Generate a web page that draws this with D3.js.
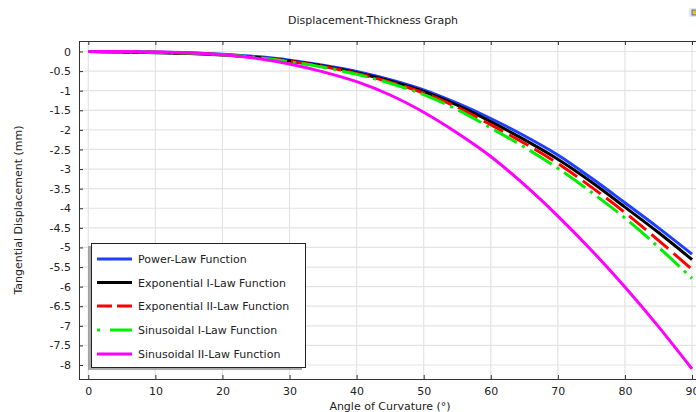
<!DOCTYPE html>
<html>
<head>
<meta charset="utf-8">
<script src="https://cdn.jsdelivr.net/npm/d3@7"></script>
<style>
  body { margin: 0; background: #fff; }
  text { font-family: 'DejaVu Sans', sans-serif; fill: #222; }
</style>
</head>
<body>
<div id="chart"></div>
<script>
// angle of curvature (deg)
const angles = [0, 5, 10, 15, 20, 25, 30, 35, 40, 45, 50, 55, 60, 65, 70, 75, 80, 85, 90];
// tangential displacement (mm)
const powerLaw = [0, 0, -0.01, -0.03, -0.07, -0.13, -0.22, -0.35, -0.51, -0.72, -0.98, -1.32, -1.71, -2.15, -2.64, -3.23, -3.86, -4.50, -5.17];
const expI = [0, -0.02, -0.03, -0.05, -0.09, -0.15, -0.24, -0.37, -0.54, -0.75, -1.02, -1.37, -1.79, -2.25, -2.75, -3.33, -3.97, -4.62, -5.31];
const expII = [0, -0.01, -0.02, -0.04, -0.08, -0.15, -0.25, -0.38, -0.56, -0.78, -1.06, -1.42, -1.87, -2.34, -2.86, -3.46, -4.11, -4.82, -5.56];
const sinI = [0, -0.01, -0.02, -0.04, -0.08, -0.15, -0.26, -0.40, -0.58, -0.81, -1.10, -1.48, -1.95, -2.44, -2.98, -3.59, -4.25, -4.99, -5.79];
const sinII = [0, 0, -0.01, -0.03, -0.08, -0.17, -0.32, -0.52, -0.77, -1.11, -1.55, -2.08, -2.68, -3.40, -4.20, -5.07, -6.01, -7.02, -8.10];
const xTicks = [0, 10, 20, 30, 40, 50, 60, 70, 80, 90];
const yTicks = [0, -0.5, -1, -1.5, -2, -2.5, -3, -3.5, -4, -4.5, -5, -5.5, -6, -6.5, -7, -7.5, -8];

const series = [
  { name: 'Power-Law Function', values: powerLaw, color: '#1f3fff', dash: null },
  { name: 'Exponential I-Law Function', values: expI, color: '#000000', dash: null },
  { name: 'Exponential II-Law Function', values: expII, color: '#ff0000', dash: '22,7' },
  { name: 'Sinusoidal I-Law Function', values: sinI, color: '#00ee00', dash: '3,6,26,6' },
  { name: 'Sinusoidal II-Law Function', values: sinII, color: '#ff00ff', dash: null }
];

const width = 696, height = 412;
const frame = { left: 79, top: 41, bottom: 379, right: 696 };

const svg = d3.select('#chart').append('svg')
  .attr('width', width)
  .attr('height', height);

const x = d3.scaleLinear().domain([0, 90]).range([88.3, 692]);
const y = d3.scaleLinear().domain([0, -8]).range([51.5, 365]);

// grid
svg.append('g').selectAll('line').data(xTicks).enter().append('line')
  .attr('x1', d => x(d)).attr('x2', d => x(d))
  .attr('y1', frame.top).attr('y2', frame.bottom)
  .attr('stroke', '#e3e3e3').attr('stroke-width', 1.2);
svg.append('g').selectAll('line').data(yTicks).enter().append('line')
  .attr('x1', frame.left).attr('x2', frame.right)
  .attr('y1', d => y(d)).attr('y2', d => y(d))
  .attr('stroke', '#e3e3e3').attr('stroke-width', 1.2);

// axes (ticks pointing inward)
const bottomAxis = svg.append('g')
  .attr('transform', `translate(0, ${frame.bottom})`)
  .call(d3.axisBottom(x).tickValues(xTicks).tickSizeInner(-4).tickSizeOuter(0).tickPadding(8));
const topAxis = svg.append('g')
  .attr('transform', `translate(0, ${frame.top})`)
  .call(d3.axisTop(x).tickValues(xTicks).tickSizeInner(-4).tickSizeOuter(0).tickFormat(''));
const leftAxis = svg.append('g')
  .attr('transform', `translate(${frame.left}, 0)`)
  .call(d3.axisLeft(y).tickValues(yTicks).tickSizeInner(-4).tickSizeOuter(0).tickPadding(8).tickFormat(d => d));

[bottomAxis, topAxis, leftAxis].forEach(g => {
  g.select('.domain').remove();
  g.selectAll('.tick line').attr('stroke', '#333');
  g.selectAll('text').attr('font-size', '11px').attr('font-family', 'DejaVu Sans').attr('fill', '#222');
});

// frame lines
svg.append('line').attr('x1', frame.left + 0.5).attr('x2', frame.left + 0.5)
  .attr('y1', frame.top).attr('y2', frame.bottom).attr('stroke', '#333');
svg.append('line').attr('x1', frame.left).attr('x2', frame.right)
  .attr('y1', frame.top + 0.5).attr('y2', frame.top + 0.5).attr('stroke', '#333');
svg.append('line').attr('x1', frame.left).attr('x2', frame.right)
  .attr('y1', frame.bottom + 0.5).attr('y2', frame.bottom + 0.5).attr('stroke', '#333');

// curves
const line = d3.line()
  .x((d, i) => x(angles[i]))
  .y(d => y(d))
  .curve(d3.curveCatmullRom.alpha(0.5));

series.forEach(s => {
  svg.append('path')
    .datum(s.values)
    .attr('d', line)
    .attr('fill', 'none')
    .attr('stroke', s.color)
    .attr('stroke-width', 3)
    .attr('stroke-dasharray', s.dash);
});

// titles
svg.append('text')
  .attr('x', 373).attr('y', 24)
  .attr('text-anchor', 'middle')
  .attr('font-size', '11px')
  .text('Displacement-Thickness Graph');

svg.append('text')
  .attr('x', 390).attr('y', 410)
  .attr('text-anchor', 'middle')
  .attr('font-size', '11px')
  .text('Angle of Curvature (°)');

svg.append('text')
  .attr('transform', 'translate(22, 210) rotate(-90)')
  .attr('text-anchor', 'middle')
  .attr('font-size', '11px')
  .text('Tangential Displacement (mm)');

// small toolbar icon top right
svg.append('rect').attr('x', 689).attr('y', 8).attr('width', 8).attr('height', 9)
  .attr('rx', 2).attr('fill', '#dde6f0');
svg.append('rect').attr('x', 692).attr('y', 10).attr('width', 5).attr('height', 5)
  .attr('fill', '#f0c020').attr('stroke', '#3060c0').attr('stroke-width', 0.8);

// legend
const legend = svg.append('g');
legend.append('rect')
  .attr('x', 88).attr('y', 246).attr('width', 214).attr('height', 124)
  .attr('fill', '#888').attr('opacity', 0.7);
legend.append('rect')
  .attr('x', 91.5).attr('y', 243.5).attr('width', 214).attr('height', 124)
  .attr('fill', '#fff').attr('stroke', '#222').attr('stroke-width', 1);

const rowY = [259, 282.5, 306, 330, 354];
series.forEach((s, i) => {
  legend.append('line')
    .attr('x1', 97).attr('x2', 132)
    .attr('y1', rowY[i]).attr('y2', rowY[i])
    .attr('stroke', s.color)
    .attr('stroke-width', 3)
    .attr('stroke-dasharray', i === 2 ? '15,5' : (i === 3 ? '3,10,22' : null));
  legend.append('text')
    .attr('x', 138).attr('y', rowY[i] + 4)
    .attr('font-size', '11px')
    .text(s.name);
});
</script>
</body>
</html>
